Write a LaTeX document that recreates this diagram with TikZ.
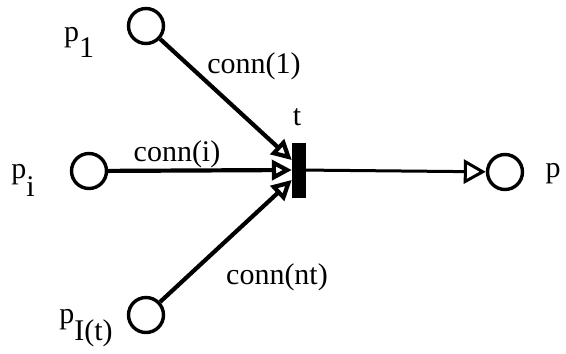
\documentclass[tikz,border=0pt]{standalone}
\usepackage{fontspec}
\setmainfont{Liberation Serif}
\usetikzlibrary{arrows.meta}
\begin{document}
\begin{tikzpicture}[x=1pt, y=-1pt,
  place/.style={draw, circle, line width=3.4pt, minimum size=35pt, inner sep=0pt},
  transition/.style={draw, fill=black, minimum width=13pt, minimum height=54pt, inner sep=0pt},
  label/.style={font=\fontsize{30}{33}\selectfont, inner sep=0pt},
  arc/.style={line width=4.2pt, -{Triangle[length=20pt, width=20pt, fill=white]}},
  outarc/.style={line width=3pt, -{Triangle[length=22pt, width=24pt, fill=white]}}
]
\useasboundingbox (0,0) rectangle (566,354);
\node[place] (p1) at (146,26) {};
\node[place] (pi) at (89,171) {};
\node[place] (pI) at (146,315) {};
\node[transition] (t) at (298.5,170) {};
\node[place] (p) at (505,172) {};

\node[label] (p1lbl) at (79,42) {p\raisebox{-16pt}{1}};
\node[label] (pilbl) at (23,180) {p\raisebox{-18pt}{i}};
\node[label] (pIlbl) at (86,328) {p\raisebox{-17pt}{I(t)}};
\node[label] (tlbl) at (297,117) {t};
\node[label] (plbl) at (553,174) {p};
\node[label] (c1) at (254,66) {conn(1)};
\node[label] (ci) at (177,154) {conn(i)};
\node[label] (cnt) at (277,277) {conn(nt)};

\draw[arc] (p1) -- (t.124);
\draw[arc] (pi) -- (t.west);
\draw[arc] (pI) -- (t.236);
\draw[outarc] (t) -- (p);
\end{tikzpicture}
\end{document}
